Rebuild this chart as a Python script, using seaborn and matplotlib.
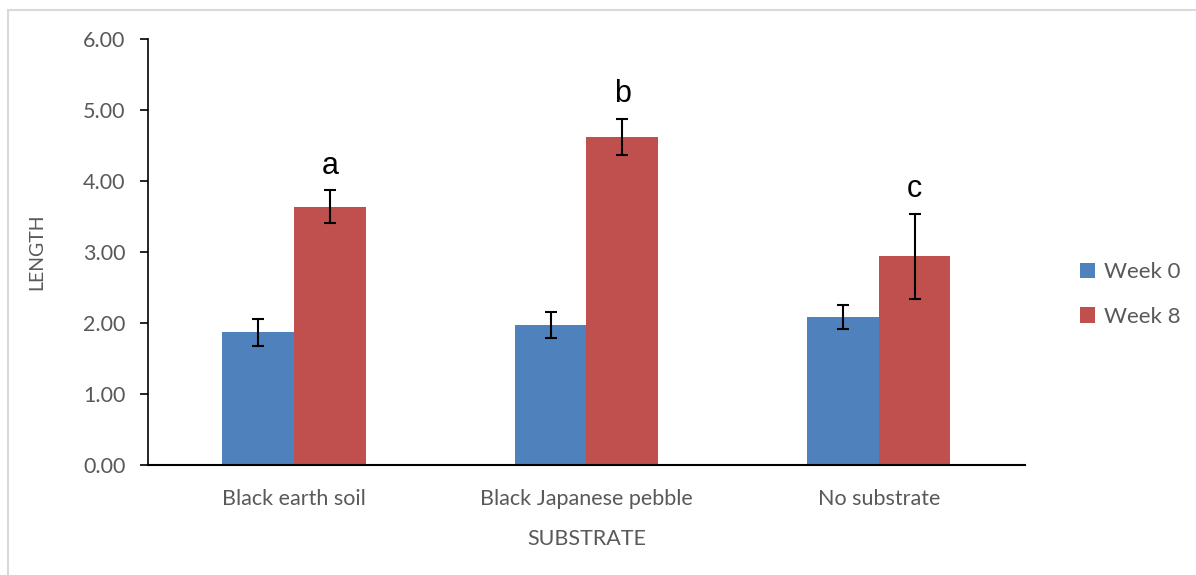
import matplotlib
matplotlib.use("Agg")
import matplotlib.pyplot as plt
import seaborn as sns
import pandas as pd
from matplotlib.patches import Rectangle

substrates = ["Black earth soil", "Black Japanese pebble", "No substrate"]
weeks = ["Week 0", "Week 8"]
week0_len = [1.87, 1.97, 2.09]
week8_len = [3.64, 4.62, 2.94]
week0_err = [0.19, 0.18, 0.17]
week8_err = [0.23, 0.26, 0.60]
letters = ["a", "b", "c"]

df = pd.DataFrame({
    "SUBSTRATE": substrates * 2,
    "Week": [weeks[0]] * 3 + [weeks[1]] * 3,
    "LENGTH": week0_len + week8_len,
})

sns.set_style("white")
plt.rcParams['font.family'] = ['Lato', 'DejaVu Sans']
grey = "#595959"

fig = plt.figure(figsize=(11.96, 5.75), dpi=100)
ax = fig.add_axes([0.1237, 0.1913, 0.7333, 0.7408])

sns.barplot(data=df, x="SUBSTRATE", y="LENGTH", hue="Week",
            palette=["#4F81BD", "#C0504D"], width=0.49, saturation=1,
            errorbar=None, linewidth=0, ax=ax, legend=True)

# error bars at bar centres, hue order = Week 0 then Week 8
errs = week0_err + week8_err
vals = week0_len + week8_len
bars = [p for p in ax.patches if p.get_height() > 0][:6]
for p, v, e in zip(bars, vals, errs):
    xc = p.get_x() + p.get_width() / 2
    ax.errorbar(xc, v, yerr=e, color="black", capsize=4.5, elinewidth=1.5,
                capthick=1.5, zorder=5)

# significance letters above Week 8 bars
for p, v, e, t in zip(bars[3:], week8_len, week8_err, letters):
    xc = p.get_x() + p.get_width() / 2
    ax.text(xc, v + e + 0.13, t, ha="center", va="bottom", fontsize=22,
            family=["Liberation Sans"], color="black")

ax.set_ylim(0, 6)
ax.set_xlim(-0.5, 2.5)
ax.set_yticks([0, 1, 2, 3, 4, 5, 6])
ax.set_yticklabels([f"{t:.2f}" for t in [0, 1, 2, 3, 4, 5, 6]])
ax.tick_params(axis="y", which="major", left=True, length=6, width=1.2,
               color="black", labelsize=15.5, labelcolor=grey, pad=10)
ax.tick_params(axis="x", bottom=False, labelsize=15.5, labelcolor=grey, pad=14)
for s in ["top", "right"]:
    ax.spines[s].set_visible(False)
ax.spines["left"].set_color("black")
ax.spines["left"].set_linewidth(1.2)
ax.spines["bottom"].set_color("black")
ax.spines["bottom"].set_linewidth(1.5)
ax.set_xlabel("SUBSTRATE", fontsize=15.5, color=grey, labelpad=14)
ax.set_ylabel("LENGTH", fontsize=14, color=grey, labelpad=27)

ax.get_legend().remove()
handles, labels = ax.get_legend_handles_labels()
fig.legend(handles[:2], labels[:2], loc="center left",
           bbox_to_anchor=(0.886, 0.488), frameon=False, fontsize=16,
           handlelength=0.7, handleheight=0.7, handletextpad=0.4,
           labelspacing=1.1, labelcolor=grey)

fig.patches.append(Rectangle((0.007, -0.1), 1.1, 1.083,
                             transform=fig.transFigure, fill=False,
                             edgecolor="#D9D9D9", linewidth=1.5))

fig.savefig("out.png", dpi=100)
